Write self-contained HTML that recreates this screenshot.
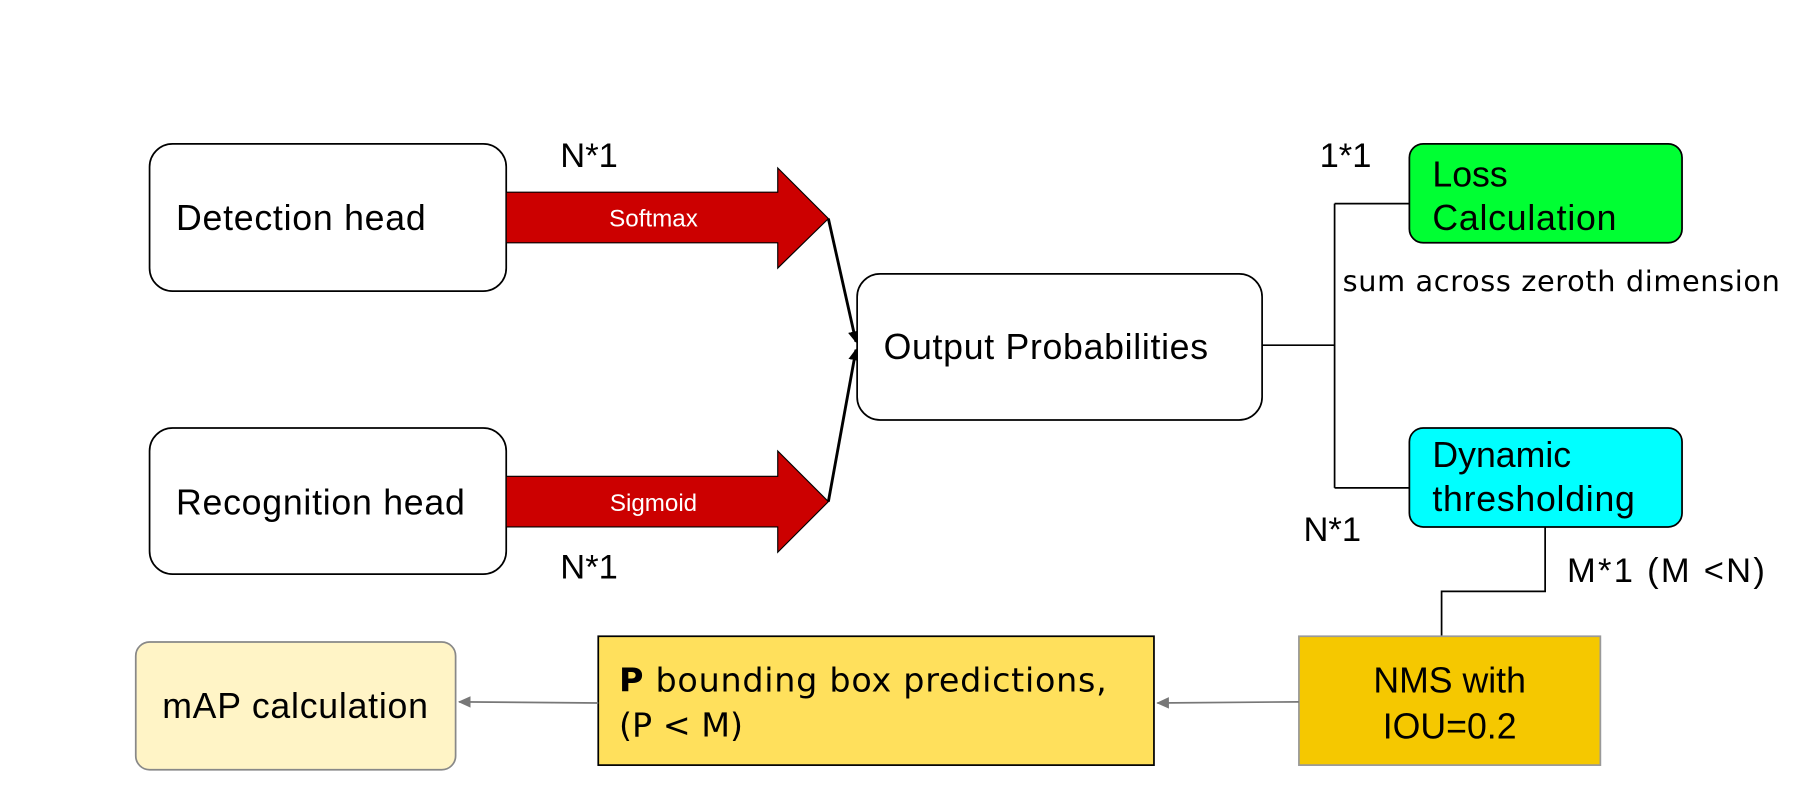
<!DOCTYPE html>
<html><head><meta charset="utf-8"><style>html,body{margin:0;padding:0;background:#fff}svg{display:block}text{font-family:"Liberation Sans","DejaVu Sans",sans-serif}</style></head>
<body>
<svg width="1804" height="800" viewBox="0 0 1568 695.3" xmlns="http://www.w3.org/2000/svg">
<defs>
<marker id="bk" markerWidth="10" markerHeight="10" refX="9" refY="5" orient="auto" markerUnits="userSpaceOnUse"><path d="M0,0 L10,5 L0,10 Z" fill="#000"/></marker>
<marker id="gr" markerWidth="12" markerHeight="12" refX="10" refY="6" orient="auto" markerUnits="userSpaceOnUse"><path d="M0,1 L11,6 L0,11 Z" fill="#777"/></marker>
</defs>
<rect width="1568" height="695.3" fill="#fff"/>
<rect x="130" y="125" width="310" height="128" rx="20" fill="#fff" stroke="#000" stroke-width="1.5"/>
<text x="153" y="200" font-size="31" textLength="217">Detection head</text>
<rect x="130" y="372" width="310" height="127" rx="20" fill="#fff" stroke="#000" stroke-width="1.5"/>
<text x="153" y="447" font-size="31" textLength="251">Recognition head</text>
<path d="M440,167 L676,167 L676,146 L720,190 L676,233 L676,211 L440,211 Z" fill="#cc0000" stroke="#000" stroke-width="1"/>
<text x="568" y="197" font-size="21" fill="#fff" text-anchor="middle">Softmax</text>
<path d="M440,414 L676,414 L676,392 L720,436 L676,480 L676,458 L440,458 Z" fill="#cc0000" stroke="#000" stroke-width="1"/>
<text x="568" y="444" font-size="21" fill="#fff" text-anchor="middle">Sigmoid</text>
<text x="487" y="145" font-size="30">N*1</text>
<text x="487" y="503" font-size="30">N*1</text>
<line x1="720" y1="190" x2="744" y2="297" stroke="#000" stroke-width="2.5" marker-end="url(#bk)"/>
<line x1="720" y1="436" x2="744" y2="304" stroke="#000" stroke-width="2.5" marker-end="url(#bk)"/>
<rect x="745" y="238" width="352" height="127" rx="20" fill="#fff" stroke="#000" stroke-width="1.5"/>
<text x="768" y="312" font-size="31" textLength="282">Output Probabilities</text>
<path d="M1097,300 H1160 M1160,177 V424 M1160,177 H1225 M1160,424 H1225" stroke="#000" stroke-width="1.5" fill="none"/>
<rect x="1225" y="125" width="237" height="86" rx="12" fill="#00ff33" stroke="#000" stroke-width="1.5"/>
<text x="1245" y="162" font-size="31">Loss</text>
<text x="1245" y="200" font-size="31" textLength="160">Calculation</text>
<text x="1147" y="145" font-size="30">1*1</text>
<text x="1167" y="253" font-size="25" textLength="380" style="font-family:'DejaVu Sans','Liberation Sans',sans-serif">sum across zeroth dimension</text>
<rect x="1225" y="372" width="237" height="86" rx="12" fill="#00ffff" stroke="#000" stroke-width="1.5"/>
<text x="1245" y="406" font-size="31">Dynamic</text>
<text x="1245" y="444" font-size="31" textLength="176">thresholding</text>
<text x="1133" y="470" font-size="30">N*1</text>
<path d="M1343,458 V514 H1253 V553" stroke="#000" stroke-width="1.5" fill="none"/>
<text x="1362" y="506" font-size="30" textLength="172">M*1 (M &lt;N)</text>
<rect x="1129" y="553" width="262" height="112" fill="#f5c800" stroke="#999" stroke-width="1.5"/>
<text x="1260" y="602" font-size="31" text-anchor="middle">NMS with</text>
<text x="1260" y="642" font-size="31" text-anchor="middle">IOU=0.2</text>
<rect x="520" y="553" width="483" height="112" fill="#ffe05c" stroke="#000" stroke-width="1.5"/>
<text x="538" y="601" font-size="29" style="font-family:'DejaVu Sans','Liberation Sans',sans-serif" textLength="424"><tspan font-weight="bold">P</tspan> bounding box predictions,</text>
<text x="538" y="640" font-size="29" style="font-family:'DejaVu Sans','Liberation Sans',sans-serif">(P &lt; M)</text>
<rect x="118" y="558" width="278" height="111" rx="12" fill="#fff4c6" stroke="#888" stroke-width="1.5"/>
<text x="141" y="624" font-size="31" textLength="231">mAP calculation</text>
<line x1="1129" y1="610" x2="1006" y2="611" stroke="#777" stroke-width="1.5" marker-end="url(#gr)"/>
<line x1="520" y1="611" x2="399" y2="610" stroke="#777" stroke-width="1.5" marker-end="url(#gr)"/>
</svg>
</body></html>
